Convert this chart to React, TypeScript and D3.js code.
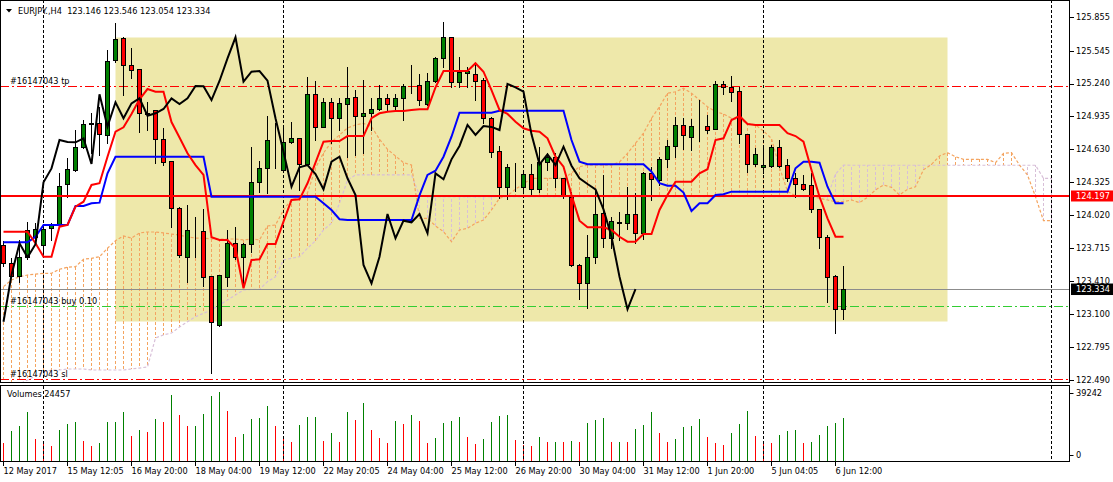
import React from 'react'
import * as d3 from 'd3'

// EURJPY H4 candles, bar 0 = 12 May 2017 04:00
const openP = [
  123.743, 123.572, 123.457, 123.628, 123.820, 123.743, 123.898, 123.934, 124.308, 124.438,
  124.649, 124.862, 124.877, 124.760, 125.458, 125.660, 125.409, 125.372, 124.970, 124.995,
  124.723, 124.522, 124.083, 123.634, 123.877, 123.872, 123.454, 123.000, 123.448, 123.758,
  123.628, 123.749, 124.324, 124.453, 124.695, 124.438, 124.695, 124.732, 124.494, 125.140,
  124.840, 125.066, 124.918, 125.050, 125.112, 124.942, 124.964, 125.004, 125.103, 125.034,
  125.103, 125.217, 125.227, 125.047, 125.264, 125.474, 125.669, 125.257, 125.335, 125.329,
  125.273, 124.918, 124.615, 124.283, 124.485, 124.277, 124.401, 124.259, 124.515, 124.562,
  124.361, 124.185, 123.557, 123.387, 123.634, 124.036, 123.805, 123.949, 123.943, 124.030,
  123.851, 124.407, 124.345, 124.537, 124.661, 124.856, 124.747, 124.840, 124.846, 124.815,
  125.236, 125.205, 125.171, 124.769, 124.491, 124.463, 124.478, 124.654, 124.484, 124.361,
  124.308, 124.299, 124.073, 123.820, 123.454, 123.146,
]
const highP = [
  123.780, 123.622, 123.789, 123.958, 123.943, 123.928, 123.943, 124.407, 124.547, 124.809,
  124.902, 124.964, 125.025, 125.551, 125.805, 125.675, 125.567, 125.372, 125.071, 124.995,
  124.825, 124.522, 124.098, 124.114, 123.999, 124.073, 123.454, 123.464, 123.882, 123.913,
  123.758, 124.654, 124.524, 124.939, 124.871, 124.834, 124.886, 124.732, 125.304, 125.267,
  125.103, 125.103, 125.103, 125.391, 125.180, 125.273, 125.103, 125.227, 125.143, 125.140,
  125.236, 125.412, 125.329, 125.335, 125.489, 125.814, 125.669, 125.489, 125.396, 125.412,
  125.289, 124.933, 124.661, 124.494, 124.506, 124.422, 124.494, 124.649, 124.593, 124.593,
  124.361, 124.237, 123.566, 123.836, 124.253, 124.392, 124.005, 124.051, 124.278, 124.222,
  124.422, 124.469, 124.562, 124.716, 124.927, 124.923, 124.908, 125.087, 124.948, 125.267,
  125.267, 125.310, 125.211, 124.769, 124.640, 124.670, 124.670, 124.716, 124.540, 124.407,
  124.392, 124.407, 124.073, 123.836, 123.464, 123.546,
]
const lowP = [
  123.547, 123.445, 123.401, 123.616, 123.758, 123.634, 123.789, 123.928, 124.191, 124.429,
  124.640, 124.593, 124.578, 124.685, 125.442, 125.134, 125.289, 124.793, 124.809, 124.500,
  124.484, 123.913, 123.634, 123.401, 123.634, 123.362, 122.552, 122.991, 123.362, 123.609,
  123.356, 123.680, 124.237, 124.228, 124.453, 124.423, 124.685, 124.253, 124.485, 124.716,
  124.834, 124.685, 124.809, 124.562, 124.578, 124.593, 124.809, 124.995, 124.995, 124.995,
  124.902, 125.149, 125.041, 125.041, 125.257, 125.396, 125.211, 125.211, 125.211, 125.087,
  124.871, 124.562, 124.176, 124.166, 124.244, 124.222, 124.215, 124.237, 124.438, 124.283,
  124.176, 123.547, 123.238, 123.155, 123.572, 123.721, 123.712, 123.789, 123.889, 123.764,
  123.795, 124.160, 124.299, 124.469, 124.562, 124.630, 124.624, 124.710, 124.784, 124.815,
  125.143, 125.081, 124.691, 124.422, 124.475, 124.407, 124.469, 124.469, 124.339, 124.191,
  124.253, 124.051, 123.712, 123.216, 122.923, 123.054,
]
const closeP = [
  123.572, 123.457, 123.628, 123.882, 123.889, 123.891, 123.928, 124.292, 124.444, 124.654,
  124.862, 124.877, 124.772, 125.452, 125.651, 125.412, 125.363, 124.970, 124.958, 124.723,
  124.515, 124.083, 123.650, 123.882, 123.879, 123.448, 123.030, 123.464, 123.758, 123.628,
  123.749, 124.324, 124.453, 124.716, 124.697, 124.695, 124.732, 124.494, 125.140, 124.840,
  125.066, 124.918, 125.056, 125.103, 124.942, 124.964, 125.004, 125.103, 125.050, 125.103,
  125.217, 125.214, 125.087, 125.264, 125.474, 125.669, 125.257, 125.350, 125.356, 125.267,
  124.918, 124.608, 124.283, 124.463, 124.484, 124.401, 124.259, 124.515, 124.562, 124.361,
  124.206, 123.557, 123.387, 123.634, 124.030, 123.805, 123.968, 123.953, 124.030, 123.851,
  124.407, 124.352, 124.537, 124.661, 124.856, 124.763, 124.846, 124.838, 124.809, 125.236,
  125.205, 125.165, 124.769, 124.491, 124.584, 124.484, 124.654, 124.478, 124.361, 124.308,
  124.259, 124.073, 123.820, 123.448, 123.146, 123.334,
]
const volumes = [
  10091, 17005, 19808, 27657, 12520, 10838, 8596, 17566, 20929, 22051,
  11399, 8596, 10278, 22051, 22424, 27657, 14015, 17566, 16445, 23732,
  22051, 37748, 25975, 19808, 20182, 26536, 37187, 39242, 28217, 13642,
  15323, 23732, 24293, 31020, 19808, 13081, 10838, 20369, 24854, 25227,
  11399, 15884, 10838, 27657, 23172, 32702, 17566, 13081, 10278, 22611,
  20929, 25975, 22611, 10278, 13081, 21490, 22611, 24854, 13642, 9717,
  12520, 22051, 25414, 25975, 11960, 9157, 8596, 13642, 10736, 11088,
  10912, 11616, 10560, 21648, 23232, 24288, 10560, 11088, 10912, 18480,
  20592, 27984, 15840, 11088, 12672, 19536, 20064, 23760, 13728, 10032,
  8976, 15840, 21120, 28512, 14256, 10560, 10032, 14784, 16896, 17424,
  10032, 10560, 14784, 20064, 21648, 24457,
]

// Ichimoku lines
const tenkan = [
  123.866, 123.866, 123.866, 123.866, 123.758, 123.634, 123.634, 123.912, 123.928, 124.098,
  124.144, 124.299, 124.315, 124.561, 124.793, 124.834, 124.958, 125.094, 125.189, 125.164,
  125.164, 124.883, 124.740, 124.593, 124.484, 124.392, 123.814, 123.789, 123.789, 123.712,
  123.341, 123.603, 123.609, 123.752, 123.752, 123.959, 124.160, 124.166, 124.315, 124.506,
  124.701, 124.707, 124.707, 124.753, 124.753, 124.753, 124.918, 124.964, 124.979, 124.985,
  124.985, 124.995, 125.001, 125.001, 125.205, 125.356, 125.356, 125.356, 125.356, 125.428,
  125.350, 125.180, 124.995, 124.958, 124.886, 124.825, 124.803, 124.793, 124.732, 124.561,
  124.469, 124.206, 123.968, 123.907, 123.907, 123.907, 123.882, 123.819, 123.773, 123.773,
  123.844, 123.844, 124.067, 124.206, 124.330, 124.330, 124.330, 124.407, 124.445, 124.716,
  124.732, 124.902, 124.939, 124.865, 124.856, 124.856, 124.856, 124.856, 124.779, 124.753,
  124.701, 124.438, 124.190, 123.990, 123.819, 123.819,
]
const kijun = [
  123.767, 123.767, 123.767, 123.767, 123.819, 123.928, 123.928, 123.928, 123.928, 124.104,
  124.104, 124.129, 124.135, 124.407, 124.561, 124.561, 124.561, 124.561, 124.561, 124.561,
  124.561, 124.561, 124.561, 124.561, 124.561, 124.561, 124.190, 124.190, 124.190, 124.190,
  124.190, 124.190, 124.190, 124.190, 124.190, 124.190, 124.190, 124.190, 124.190, 124.190,
  124.130, 124.067, 123.981, 123.974, 123.974, 123.974, 123.974, 123.974, 123.974, 123.974,
  123.974, 123.974, 124.202, 124.392, 124.432, 124.561, 124.747, 124.970, 124.970, 124.970,
  124.970, 124.970, 124.988, 124.988, 124.988, 124.988, 124.988, 124.988, 124.988, 124.988,
  124.988, 124.716, 124.515, 124.491, 124.491, 124.491, 124.491, 124.491, 124.491, 124.491,
  124.491, 124.422, 124.315, 124.292, 124.292, 124.229, 124.058, 124.129, 124.129, 124.206,
  124.213, 124.237, 124.237, 124.237, 124.237, 124.237, 124.237, 124.237, 124.237, 124.454,
  124.515, 124.515, 124.506, 124.283, 124.129, 124.129,
]
const spanA = [
  123.356, 123.418, 123.448, 123.464, 123.473, 123.480, 123.480, 123.517, 123.536, 123.541,
  123.610, 123.619, 123.634, 123.712, 123.782, 123.826, 123.807, 123.854, 123.863, 123.863,
  123.854, 123.844, 123.835, 123.817, 123.807, 123.807, 123.798, 123.798, 123.798, 123.798,
  123.789, 123.798, 123.790, 123.919, 123.928, 124.067, 124.166, 124.176, 124.225, 124.457,
  124.596, 124.698, 124.763, 124.828, 124.856, 124.871, 124.840, 124.723, 124.630, 124.568,
  124.506, 124.484, 123.990, 123.990, 123.919, 123.866, 123.773, 123.882, 123.897, 123.944,
  123.974, 124.067, 124.176, 124.200, 124.260, 124.310, 124.360, 124.361, 124.361, 124.361,
  124.361, 124.410, 124.469, 124.484, 124.484, 124.484, 124.484, 124.512, 124.593, 124.686,
  124.779, 124.918, 125.025, 125.150, 125.164, 125.196, 125.150, 125.087, 125.025, 124.979,
  124.958, 124.918, 124.902, 124.871, 124.856, 124.800, 124.730, 124.461, 124.240, 124.199,
  124.199, 124.190, 124.176, 124.160, 124.144, 124.144, 124.160, 124.135, 124.185, 124.253,
  124.299, 124.277, 124.206, 124.259, 124.283, 124.440, 124.490, 124.568, 124.599, 124.561,
  124.537, 124.537, 124.537, 124.537, 124.506, 124.593, 124.599, 124.484, 124.392, 124.190,
  123.968, 123.968,
]
const spanB = [
  122.379, 122.416, 122.453, 122.490, 122.527, 122.564, 122.583, 122.583, 122.592, 122.592,
  122.592, 122.583, 122.583, 122.583, 122.583, 122.583, 122.592, 122.601, 122.611, 122.880,
  122.908, 122.926, 122.982, 123.031, 123.077, 123.109, 123.139, 123.186, 123.232, 123.279,
  123.325, 123.331, 123.331, 123.402, 123.448, 123.603, 123.619, 123.634, 123.712, 123.782,
  123.882, 123.944, 124.129, 124.345, 124.392, 124.392, 124.392, 124.392, 124.392, 124.392,
  124.392, 124.392, 124.202, 124.188, 124.188, 124.188, 124.188, 124.188, 124.188, 124.188,
  124.188, 124.188, 124.188, 124.188, 124.188, 124.188, 124.188, 124.188, 124.188, 124.188,
  124.188, 124.188, 124.188, 124.188, 124.188, 124.188, 124.188, 124.188, 124.188, 124.188,
  124.188, 124.188, 124.188, 124.188, 124.188, 124.188, 124.188, 124.188, 124.188, 124.188,
  124.188, 124.188, 124.188, 124.188, 124.188, 124.188, 124.188, 124.188, 124.188, 124.188,
  124.188, 124.188, 124.188, 124.188, 124.400, 124.484, 124.482, 124.482, 124.482, 124.482,
  124.482, 124.482, 124.482, 124.482, 124.482, 124.482, 124.482, 124.482, 124.482, 124.482,
  124.482, 124.482, 124.482, 124.482, 124.482, 124.482, 124.482, 124.482, 124.482, 124.482,
  124.361, 124.361,
]

const dateBars = [0, 8, 16, 24, 32, 40, 48, 56, 64, 72, 80, 88, 96, 104]
const dateLabels = [
  '12 May 2017', '15 May 12:05', '16 May 20:00', '18 May 04:00', '19 May 12:00',
  '22 May 20:05', '24 May 04:00', '25 May 12:00', '26 May 20:00', '30 May 04:00',
  '31 May 12:00', '1 Jun 20:00', '5 Jun 04:05', '6 Jun 12:00',
]
const priceTicks = [
  125.855, 125.545, 125.240, 124.935, 124.630, 124.325,
  124.020, 123.715, 123.410, 123.100, 122.795, 122.490,
]
const separatorBars = [5, 35, 65, 95, 131]

const orderId = '#16147043'
const tpPrice = 125.217
const buyPrice = 123.177
const buyLots = '0.10'
const slPrice = 122.5
const hLinePrice = 124.197
const bidPrice = 123.334
// rectangle object: from bar 14 to bar 118
const boxBars = [14, 118]
const boxPrices = [125.672, 123.037]

const W = 1113
const H = 482
const AXIS_X = 1069.5
const MAIN_BOTTOM = 382.5
const VOL_TOP = 385.5
const VOL_BOTTOM = 461.5
const FONT = "'DejaVu Sans', sans-serif"
const FS = 8.2

const UP = '#008000'
const DOWN = '#ff0000'
const SANDY = '#f4a460'
const THISTLE = '#d8bfd8'

const x = d3.scaleLinear().domain([0, 131]).range([3.3, 1051.3])
const y = d3.scaleLinear().domain([122.49, 125.855]).range([380, 17.25])
const yv = d3.scaleLinear().domain([0, 39242]).range([461, 392])
const px = (i: number) => Math.round(x(i)) + 0.5
const py = (p: number) => Math.round(y(p)) + 0.5

export default function App() {
  const bars = d3.range(closeP.length)
  const cloudBars = d3.range(spanA.length)

  const line = d3.line<number>()
  const seriesPath = (vals: number[]) =>
    line.x((_, i) => px(i)).y((d) => y(d))(vals) || ''
  const chinkou = closeP.slice(26)
  const last = closeP.length - 1

  const dashDot = '9,3,2,3'

  return (
    <div style={{ position: 'absolute', left: 0, top: 0 }}>
      <svg width={W} height={H} style={{ display: 'block', background: '#fff' }}
           fontFamily={FONT} fontSize={FS}>
        <defs>
          <clipPath id="mainClip">
            <rect x={1} y={1} width={AXIS_X - 1.5} height={MAIN_BOTTOM - 1.5} />
          </clipPath>
          <clipPath id="volClip">
            <rect x={1} y={VOL_TOP + 0.5} width={AXIS_X - 1.5} height={VOL_BOTTOM - VOL_TOP - 1} />
          </clipPath>
        </defs>

        <g clipPath="url(#mainClip)">
          {/* rectangle object */}
          <rect x={px(boxBars[0])} y={py(boxPrices[0])}
                width={px(boxBars[1]) - px(boxBars[0])}
                height={py(boxPrices[1]) - py(boxPrices[0])} fill="#eee8aa" />

          {/* kumo hatch */}
          {cloudBars.map((i) => (
            <line key={'h' + i} x1={px(i)} x2={px(i)} y1={y(spanA[i])} y2={y(spanB[i])}
                  stroke={spanA[i] >= spanB[i] ? SANDY : THISTLE}
                  strokeDasharray="3,2" strokeWidth={1} shapeRendering="crispEdges" />
          ))}
          <path d={seriesPath(spanB)} fill="none" stroke={THISTLE} strokeWidth={1.2} strokeDasharray="3,2" />
          <path d={seriesPath(spanA)} fill="none" stroke={SANDY} strokeWidth={1.2} strokeDasharray="3,2" />

          {/* period separators */}
          {separatorBars.map((b) => (
            <line key={'s' + b} x1={px(b)} x2={px(b)} y1={0} y2={MAIN_BOTTOM}
                  stroke="#000" strokeDasharray="3,2" shapeRendering="crispEdges" />
          ))}

          {/* order levels */}
          <g shapeRendering="crispEdges">
            <line x1={0} x2={AXIS_X} y1={py(bidPrice)} y2={py(bidPrice)} stroke="#8c8c8c" />
            <line x1={0} x2={AXIS_X} y1={py(tpPrice)} y2={py(tpPrice)} stroke="#ff0000" strokeDasharray={dashDot} />
            <line x1={0} x2={AXIS_X} y1={py(buyPrice)} y2={py(buyPrice)} stroke="#32cd32" strokeDasharray={dashDot} />
            <line x1={0} x2={AXIS_X} y1={py(slPrice)} y2={py(slPrice)} stroke="#ff0000" strokeDasharray={dashDot} />
          </g>

          {/* candles */}
          <g shapeRendering="crispEdges">
            {bars.map((i) => {
              const o = openP[i], c = closeP[i]
              const top = Math.round(y(Math.max(o, c))) + 0.5
              const bot = Math.round(y(Math.min(o, c))) + 0.5
              return (
                <g key={'c' + i}>
                  <line x1={px(i)} x2={px(i)} y1={Math.round(y(highP[i]))} y2={Math.round(y(lowP[i])) + 1}
                        stroke="#000" />
                  <rect x={px(i) - 2} y={top} width={4} height={Math.max(0, bot - top)}
                        fill={c >= o ? UP : DOWN} stroke="#000" />
                </g>
              )
            })}
          </g>

          {/* horizontal line object */}
          <line x1={0} x2={AXIS_X} y1={y(hLinePrice)} y2={y(hLinePrice)} stroke="#ff0000" strokeWidth={2} />

          {/* ichimoku lines */}
          <path d={seriesPath(kijun)} fill="none" stroke="#0000ff" strokeWidth={2} />
          <path d={seriesPath(tenkan)} fill="none" stroke="#ff0000" strokeWidth={2} />
          <path d={seriesPath(chinkou)} fill="none" stroke="#000" strokeWidth={2} />

          {/* order labels */}
          <text x={10} y={py(tpPrice) - 3}>{orderId} tp</text>
          <text x={10} y={py(buyPrice) - 3}>{orderId} buy {buyLots}</text>
          <text x={10} y={py(slPrice) - 3}>{orderId} sl</text>
        </g>

        {/* title */}
        <path d="M6,9 L12,9 L9,12.5 Z" fill="#000" />
        <text x={18} y={14} xmlSpace="preserve">
          {`EURJPY.,H4  ${openP[last].toFixed(3)} ${highP[last].toFixed(3)} ${lowP[last].toFixed(3)} ${closeP[last].toFixed(3)}`}
        </text>

        {/* volumes */}
        <g clipPath="url(#volClip)" shapeRendering="crispEdges">
          {bars.map((i) => (
            <line key={'v' + i} x1={px(i)} x2={px(i)} y1={yv(0)} y2={yv(volumes[i])}
                  stroke={i > 0 && volumes[i] > volumes[i - 1] ? UP : DOWN} />
          ))}
          {separatorBars.map((b) => (
            <line key={'vs' + b} x1={px(b)} x2={px(b)} y1={VOL_TOP} y2={VOL_BOTTOM}
                  stroke="#000" strokeDasharray="3,2" />
          ))}
        </g>
        <text x={7} y={397}>Volumes {volumes[last]}</text>

        {/* frames */}
        <g shapeRendering="crispEdges">
          <rect x={0.5} y={0.5} width={AXIS_X - 0.5} height={MAIN_BOTTOM - 0.5} fill="none" stroke="#000" />
          <rect x={0.5} y={VOL_TOP} width={AXIS_X - 0.5} height={VOL_BOTTOM - VOL_TOP} fill="none" stroke="#000" />
        </g>

        {/* price axis */}
        {priceTicks.map((p) => (
          <g key={'p' + p}>
            <line x1={AXIS_X} x2={AXIS_X + 4} y1={py(p)} y2={py(p)} stroke="#000" shapeRendering="crispEdges" />
            <text x={1076} y={y(p)} dy="0.35em">{p.toFixed(3)}</text>
          </g>
        ))}
        <line x1={AXIS_X} x2={AXIS_X + 4} y1={393.5} y2={393.5} stroke="#000" />
        <text x={1076} y={393.5} dy="0.35em">39242</text>
        <line x1={AXIS_X} x2={AXIS_X + 4} y1={455.5} y2={455.5} stroke="#000" />
        <text x={1076} y={455} dy="0.35em">0</text>

        <rect x={1071} y={y(hLinePrice) - 5.5} width={42} height={11} fill="#ff0000" />
        <text x={1076} y={y(hLinePrice)} dy="0.35em" fill="#fff">{hLinePrice.toFixed(3)}</text>
        <rect x={1071} y={y(bidPrice) - 5.5} width={42} height={11.5} fill="#000" />
        <text x={1076} y={y(bidPrice) + 0.5} dy="0.35em" fill="#fff">{bidPrice.toFixed(3)}</text>

        {/* time axis */}
        {dateBars.map((b, k) => (
          <g key={'d' + b}>
            <line x1={px(b)} x2={px(b)} y1={VOL_BOTTOM} y2={VOL_BOTTOM + 4} stroke="#000" shapeRendering="crispEdges" />
            <text x={px(b)} y={474}>{dateLabels[k]}</text>
          </g>
        ))}
      </svg>
    </div>
  )
}
